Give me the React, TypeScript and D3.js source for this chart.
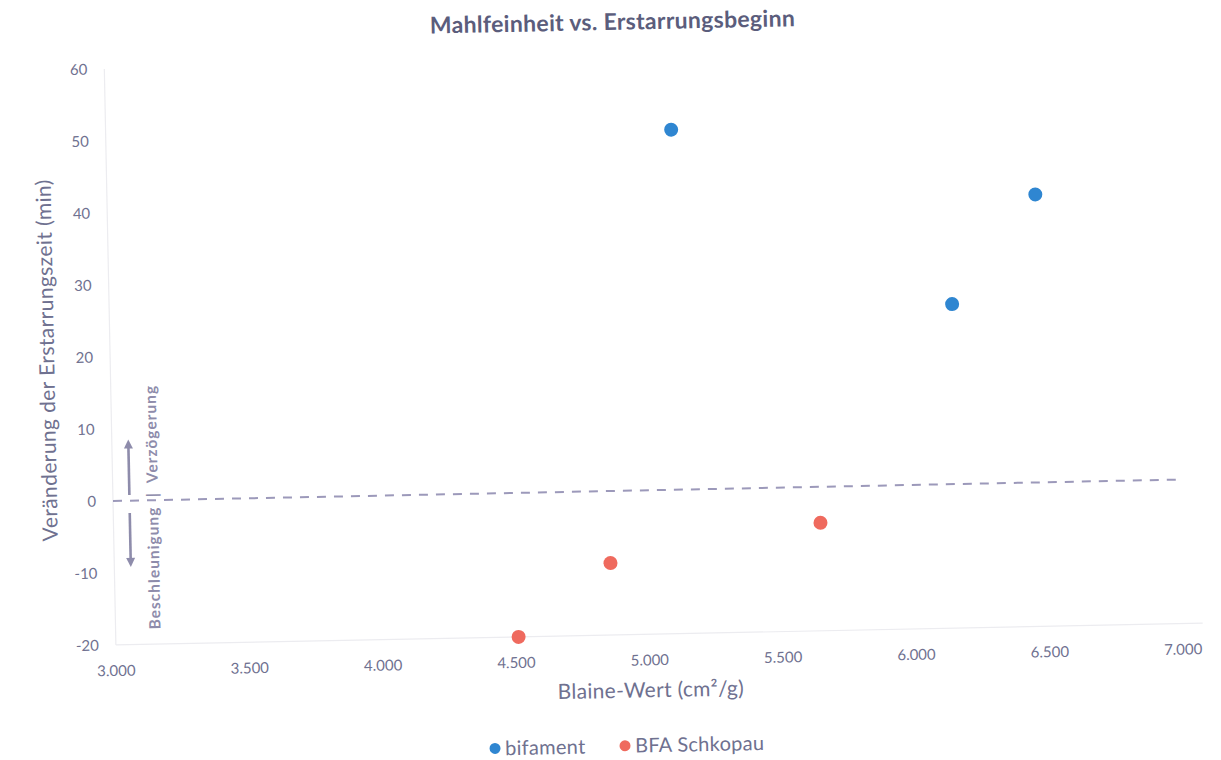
import React from "react";
import * as d3 from "d3";

// Blaine fineness (cm²/g) and change of setting time (min) per cement
const bifamentBlaine = [5120, 6480, 6160];
const bifamentDelta = [50, 40, 25];
const schkopauBlaine = [4510, 4860, 5650];
const schkopauDelta = [-20, -10, -5];

const xTicks = [3000, 3500, 4000, 4500, 5000, 5500, 6000, 6500, 7000];
const yTicks = [-20, -10, 0, 10, 20, 30, 40, 50, 60];

const seriesNames = ["bifament", "BFA Schkopau"];
const seriesColors = ["#2f86d1", "#ef6a5e"];

const W = 1221;
const H = 760;
const plot = { left: 113, right: 1180, top: 69, bottom: 645 };
const FONT = "Lato, 'Open Sans', sans-serif";
const TEXT = "#6f7190";
const TITLE = "#5b5d7c";
const GUIDE = "#8e8cab";

const de = d3.formatLocale({
  decimal: ",",
  thousands: ".",
  grouping: [3],
  currency: ["", " €"],
});
const fmtX = de.format(",d");

export default function App() {
  const x = d3.scaleLinear().domain([3000, 7000]).range([plot.left, plot.right]);
  const y = d3.scaleLinear().domain([-20, 60]).range([plot.bottom, plot.top]);

  const series = [
    { name: seriesNames[0], color: seriesColors[0], xs: bifamentBlaine, ys: bifamentDelta },
    { name: seriesNames[1], color: seriesColors[1], xs: schkopauBlaine, ys: schkopauDelta },
  ];

  const y0 = y(0);
  const arrowX = plot.left + 16.5;

  return (
    <svg
      width={W}
      height={H}
      viewBox={`0 0 ${W} ${H}`}
      style={{ position: "fixed", left: 0, top: 0, background: "#fff" }}
      fontFamily={FONT}
    >
      <rect width={W} height={H} fill="#fff" />
      <g transform={`rotate(-1.15, ${plot.left}, ${y0})`}>
        {/* title */}
        <text x={622} y={40} textAnchor="middle" fontSize={23} fontWeight={700} fill={TITLE} letterSpacing={0.3}>
          Mahlfeinheit vs. Erstarrungsbeginn
        </text>

        {/* plot frame */}
        <line x1={plot.left} x2={plot.left} y1={plot.top} y2={plot.bottom} stroke="#ececf0" strokeWidth={1.2} />
        <line x1={plot.left} x2={plot.right + 20} y1={plot.bottom} y2={plot.bottom} stroke="#ececf0" strokeWidth={1.2} />

        {/* y ticks */}
        {yTicks.map((t) => (
          <text key={t} x={96} y={y(t)} dy="0.35em" textAnchor="end" fontSize={15} fill={TEXT}>
            {t}
          </text>
        ))}

        {/* x ticks */}
        {xTicks.map((t) => (
          <text key={t} x={x(t)} y={676} textAnchor="middle" fontSize={15} fill={TEXT}>
            {fmtX(t)}
          </text>
        ))}

        {/* axis titles */}
        <text x={647} y={708} textAnchor="middle" fontSize={21} fill={TEXT} letterSpacing={0.3}>
          Blaine-Wert (cm²/g)
        </text>
        <text
          transform={`translate(57, 359) rotate(-90)`}
          textAnchor="middle"
          fontSize={21}
          fill={TEXT}
          letterSpacing={0.4}
        >
          Veränderung der Erstarrungszeit (min)
        </text>

        {/* zero line */}
        <line
          x1={plot.left}
          x2={plot.right}
          y1={y0}
          y2={y0}
          stroke="#9c99ba"
          strokeWidth={2}
          strokeDasharray="9 8"
        />

        {/* retardation / acceleration guide */}
        <line x1={arrowX} x2={arrowX} y1={y(0.8)} y2={y(7.6)} stroke={GUIDE} strokeWidth={2.6} />
        <path d={`M${arrowX},${y(8.5)} l-4.5,9 l9,0 z`} fill={GUIDE} />
        <line x1={arrowX} x2={arrowX} y1={y(-1.7)} y2={y(-8.3)} stroke={GUIDE} strokeWidth={2.6} />
        <path d={`M${arrowX},${y(-9.2)} l-4.5,-9 l9,0 z`} fill={GUIDE} />
        <text
          transform={`translate(158, ${y0 + 7}) rotate(-90)`}
          textAnchor="middle"
          fontSize={15.5}
          fontWeight={700}
          fill={GUIDE}
          letterSpacing={1}
          style={{ whiteSpace: "pre" }}
        >
          {"Beschleunigung  |  Verzögerung"}
        </text>

        {/* points */}
        {series.map((s) =>
          s.xs.map((v, i) => (
            <circle key={s.name + i} cx={x(v)} cy={y(s.ys[i])} r={7} fill={s.color} />
          ))
        )}

        {/* legend */}
        {series.map((s, i) => {
          const lx = i === 0 ? 490 : 620;
          return (
            <g key={s.name}>
              <circle cx={lx} cy={756} r={5.5} fill={s.color} />
              <text x={lx + 10} y={763} fontSize={20} fill={TEXT} letterSpacing={0.3}>
                {s.name}
              </text>
            </g>
          );
        })}
      </g>
    </svg>
  );
}
